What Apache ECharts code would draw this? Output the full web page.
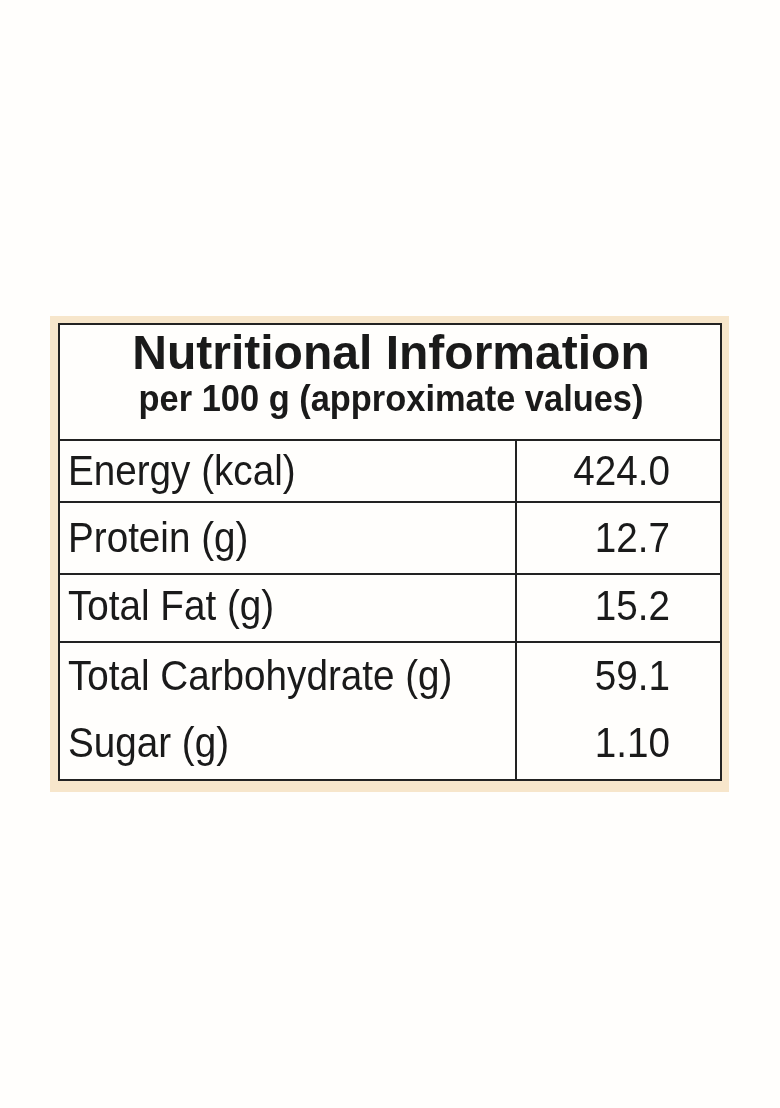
<!DOCTYPE html>
<html><head><meta charset="utf-8">
<script src="https://cdn.jsdelivr.net/npm/echarts@6/dist/echarts.min.js"></script>
<style>html,body{margin:0;background:#fffefc}#c{width:780px;height:1108px}</style>
</head><body><div id="c"></div>
<script>
const title = "Nutritional Information";
const subtitle = "per 100 g (approximate values)";
const nutrients = ["Energy (kcal)", "Protein (g)", "Total Fat (g)", "Total Carbohydrate (g)", "Sugar (g)"];
const amounts = ["424.0", "12.7", "15.2", "59.1", "1.10"];
const rowCenters = [473, 540, 608, 678, 745];
const dividers = [502, 574, 642];

const font = "'Liberation Sans',Arial,sans-serif";
const chart = echarts.init(document.getElementById('c'));
function txt(p, text, f, align, sx) {
  return {type:'text', x:p[0], y:p[1], scaleX:sx, style:{x:0,y:0,text,fill:'#1a1a1a',font:f,align,verticalAlign:'middle'}};
}
function renderItem(params, api) {
  const i = params.dataIndex;
  const P = (x, y) => api.coord([x, y]);
  const ch = [];
  if (i === 0) {
    const a = P(50, 316), b = P(729, 792);
    ch.push({type:'rect', shape:{x:a[0],y:a[1],width:b[0]-a[0],height:b[1]-a[1]}, style:{fill:'#f7e6cb'}});
    const c = P(59, 324), d = P(721, 780);
    ch.push({type:'rect', shape:{x:c[0],y:c[1],width:d[0]-c[0],height:d[1]-c[1]}, style:{fill:'#fffefc',stroke:'#222',lineWidth:2}});
    const h1 = P(59, 440), h2 = P(721, 440);
    ch.push({type:'line', shape:{x1:h1[0],y1:h1[1],x2:h2[0],y2:h2[1]}, style:{stroke:'#222',lineWidth:2}});
    const v1 = P(516, 440), v2 = P(516, 780);
    ch.push({type:'line', shape:{x1:v1[0],y1:v1[1],x2:v2[0],y2:v2[1]}, style:{stroke:'#222',lineWidth:2}});
    dividers.forEach(y => {
      const l = P(59, y), r = P(721, y);
      ch.push({type:'line', shape:{x1:l[0],y1:l[1],x2:r[0],y2:r[1]}, style:{stroke:'#222',lineWidth:2}});
    });
    ch.push(txt(P(391, 355), title, "bold 49px "+font, 'center', 0.98));
    ch.push(txt(P(391, 401), subtitle, "bold 37px "+font, 'center', 0.93));
  }
  const yc = api.value(1);
  ch.push(txt(P(68, yc), nutrients[i], '42px '+font, 'left', 0.92));
  ch.push(txt(P(670, yc), amounts[i], '42px '+font, 'right', 0.92));
  return {type:'group', children:ch};
}
chart.setOption({
  animation:false,
  grid:{left:0,right:0,top:0,bottom:0},
  xAxis:{type:'value',min:0,max:780,show:false},
  yAxis:{type:'value',min:0,max:1108,inverse:true,show:false},
  series:[{type:'custom', renderItem, data: rowCenters.map((y,i)=>[i,y])}]
});
</script></body></html>
